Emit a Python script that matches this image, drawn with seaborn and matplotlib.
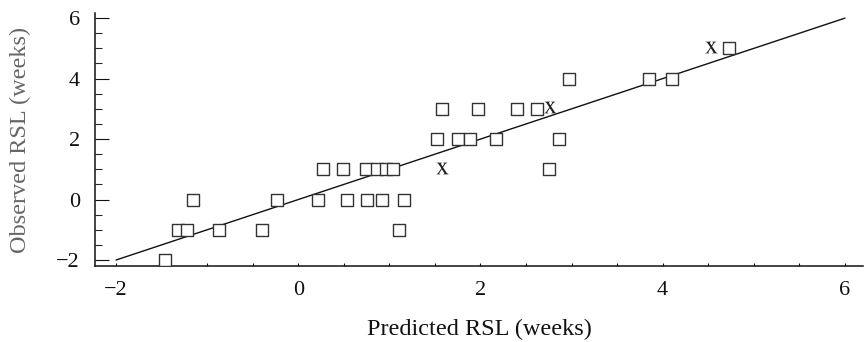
import matplotlib
matplotlib.use("Agg")
import matplotlib.pyplot as plt
from matplotlib.ticker import MultipleLocator
import seaborn as sns
import pandas as pd

# Square markers: (predicted, observed)
sq_pred = [-1.46,
           -1.32, -1.22, -0.87, -0.40, 1.11,
           -1.15, -0.23, 0.22, 0.54, 0.76, 0.92, 1.16,
           0.27, 0.49, 0.74, 0.86, 0.96, 1.04, 2.75,
           1.52, 1.75, 1.89, 2.17, 2.86,
           1.58, 1.97, 2.40, 2.62,
           2.97, 3.85, 4.10,
           4.73]
sq_obs = [-2,
          -1, -1, -1, -1, -1,
          0, 0, 0, 0, 0, 0, 0,
          1, 1, 1, 1, 1, 1, 1,
          2, 2, 2, 2, 2,
          3, 3, 3, 3,
          4, 4, 4,
          5]

# "x" markers
x_pred = [1.58, 2.76, 4.53]
x_obs = [1.05, 3.05, 5.05]

# Line of equality
line_x = [-2, 6]
line_y = [-2, 6]

x_ticks = [-2, 0, 2, 4, 6]
y_ticks = [-2, 0, 2, 4, 6]

sns.set_style("ticks")
plt.rcParams['font.family'] = ['Liberation Serif', 'DejaVu Serif']
plt.rcParams['mathtext.fontset'] = 'stix'

fig = plt.figure(figsize=(8.64, 3.42), dpi=100)
ax = fig.add_axes([0.110, 0.222, 0.889, 0.740])

df_sq = pd.DataFrame({"pred": sq_pred, "obs": sq_obs})
df_x = pd.DataFrame({"pred": x_pred, "obs": x_obs})
df_line = pd.DataFrame({"x": line_x, "y": line_y})

sns.lineplot(data=df_line, x="x", y="y", ax=ax, color="#111111", linewidth=1.0)
sns.scatterplot(data=df_sq, x="pred", y="obs", ax=ax, marker="s", s=75,
                facecolor="white", edgecolor="#333333", linewidth=1.0, zorder=3)
sns.scatterplot(data=df_x, x="pred", y="obs", ax=ax, marker=r"$\mathrm{x}$", s=75,
                color="#222222", linewidth=0, zorder=4)

ax.set_xlim(-2.23, 6.2)
ax.set_ylim(-2.2, 6.17)
ax.set_xticks(x_ticks)
ax.set_yticks(y_ticks)
ax.xaxis.set_minor_locator(MultipleLocator(0.5))
ax.yaxis.set_minor_locator(MultipleLocator(0.5))

ax.tick_params(axis="x", which="both", direction="in", length=2.3, width=0.8,
               labelsize=16, pad=11, colors="#111111")
ax.tick_params(axis="y", which="major", direction="in", length=10, width=0.8,
               labelsize=16, pad=11, colors="#111111")
ax.tick_params(axis="y", which="minor", direction="in", length=4.7, width=0.8)

for side in ["top", "right"]:
    ax.spines[side].set_visible(False)
for side in ["left", "bottom"]:
    ax.spines[side].set_linewidth(1.1)
    ax.spines[side].set_color("#111111")

ax.set_xlabel("Predicted RSL (weeks)", fontsize=17.5, color="#111111", labelpad=13)
ax.set_ylabel("Observed RSL (weeks)", fontsize=17.5, color="#666666", labelpad=18)

fig.savefig("out.png", dpi=100)
